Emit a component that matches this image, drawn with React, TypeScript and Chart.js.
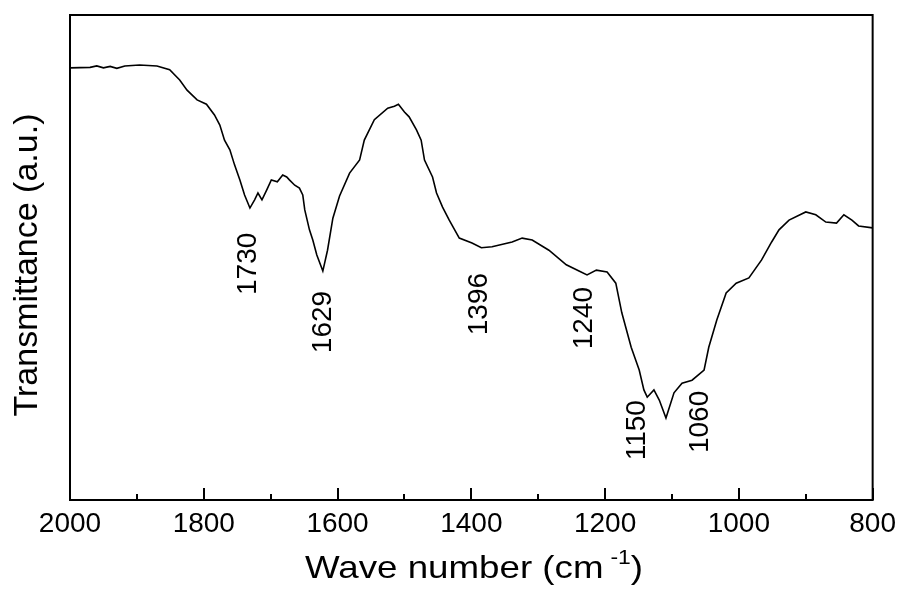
import React, { useEffect, useRef } from "react";
import { Chart, registerables } from "chart.js";

Chart.register(...registerables);

// Spectrum: wavenumber (cm^-1) and transmittance (a.u., 0-100)
const waveNumbers = [
  2000, 1970, 1960, 1950, 1940, 1930, 1918, 1896, 1870, 1851, 1836, 1825, 1810, 1796, 1784,
  1776, 1769, 1761, 1754, 1746, 1739, 1731, 1724, 1719, 1713, 1706, 1699, 1690, 1682, 1676,
  1672, 1664, 1657, 1652, 1649, 1642, 1637, 1631, 1622, 1615, 1607, 1597, 1582, 1567, 1560,
  1545, 1525, 1515, 1509, 1500, 1493, 1482, 1475, 1470, 1458, 1452, 1443, 1433, 1418, 1399,
  1385, 1369, 1339, 1324, 1309, 1284, 1258, 1239, 1227, 1213, 1197, 1184, 1175, 1161, 1149,
  1142, 1137, 1127, 1119, 1109, 1097, 1085, 1070, 1052, 1045, 1033, 1019, 1004, 985, 966,
  951, 940, 925, 900, 885, 870, 854, 843, 831, 821, 800,
];
const transmittance = [
  89.1, 89.2, 89.5, 89.1, 89.4, 89.0, 89.5, 89.7, 89.5, 88.7, 86.6, 84.5, 82.5, 81.6, 79.4,
  77.3, 74.2, 72.2, 69.1, 66.0, 62.9, 60.2, 61.9, 63.3, 61.9, 63.9, 66.0, 65.6, 67.0, 66.6,
  66.0, 64.9, 64.3, 62.9, 59.8, 55.7, 53.6, 50.5, 47.2, 51.5, 58.1, 62.7, 67.4, 70.1, 74.2,
  78.4, 80.8, 81.2, 81.6, 80.0, 79.0, 76.3, 74.2, 70.1, 66.6, 63.3, 60.4, 57.7, 54.0, 53.0,
  52.0, 52.2, 53.2, 54.0, 53.6, 51.5, 48.5, 47.2, 46.4, 47.4, 47.0, 44.7, 38.6, 31.5, 26.8,
  22.7, 21.2, 22.7, 20.6, 16.9, 22.1, 24.1, 24.7, 26.8, 31.5, 37.1, 42.7, 44.7, 45.8, 49.5,
  53.2, 55.7, 57.7, 59.4, 58.8, 57.3, 57.1, 58.8, 57.7, 56.5, 56.1,
];

// Peak annotations: label text and its anchor (data coordinates)
const peakLabels = ["1730", "1629", "1396", "1240", "1150", "1060"];
const peakLabelX = [1734, 1622, 1388, 1231, 1152, 1058];
const peakLabelY = [48.7, 36.7, 40.4, 37.5, 14.4, 16.1];

const xMajorTicks = [2000, 1800, 1600, 1400, 1200, 1000, 800];
const xMinorTicks = [1900, 1700, 1500, 1300, 1100, 900];

const FONT = '"Liberation Sans", Arial, sans-serif';

const decorPlugin = {
  id: "decor",
  afterDraw(chart: any) {
    const { ctx, chartArea, scales } = chart;
    const xs = scales.x;
    const ys = scales.y;
    ctx.save();
    // frame
    ctx.strokeStyle = "#000";
    ctx.lineWidth = 2;
    ctx.strokeRect(chartArea.left, chartArea.top, chartArea.right - chartArea.left, chartArea.bottom - chartArea.top);
    // inward ticks
    ctx.beginPath();
    xMajorTicks.forEach((v) => {
      const px = Math.round(xs.getPixelForValue(v));
      ctx.moveTo(px, chartArea.bottom);
      ctx.lineTo(px, chartArea.bottom - 12);
    });
    xMinorTicks.forEach((v) => {
      const px = Math.round(xs.getPixelForValue(v));
      ctx.moveTo(px, chartArea.bottom);
      ctx.lineTo(px, chartArea.bottom - 6);
    });
    ctx.stroke();

    // peak labels
    ctx.fillStyle = "#000";
    ctx.font = `28px ${FONT}`;
    ctx.textAlign = "center";
    ctx.textBaseline = "middle";
    peakLabels.forEach((t, i) => {
      const px = xs.getPixelForValue(peakLabelX[i]);
      const py = ys.getPixelForValue(peakLabelY[i]);
      ctx.save();
      ctx.translate(px, py);
      ctx.rotate(-Math.PI / 2);
      ctx.fillText(t, 0, 0);
      ctx.restore();
    });

    // y title
    ctx.save();
    ctx.font = `34px ${FONT}`;
    ctx.translate(28, 265);
    ctx.rotate(-Math.PI / 2);
    ctx.textAlign = "center";
    ctx.textBaseline = "middle";
    ctx.fillText("Transmittance (a.u.)", 0, 0);
    ctx.restore();

    // x title with superscript
    ctx.save();
    ctx.textBaseline = "alphabetic";
    ctx.textAlign = "left";
    const main = "Wave number (cm";
    const sup = "-1";
    const close = ")";
    ctx.font = `32px ${FONT}`;
    const wMain = ctx.measureText(main).width;
    const wClose = ctx.measureText(close).width;
    ctx.font = `20px ${FONT}`;
    const wSup = ctx.measureText(sup).width;
    const gap = 6;
    const natural = wMain + gap + wSup + wClose;
    const target = 338;
    const sx = target / natural;
    ctx.translate(305, 578);
    ctx.scale(sx, 1);
    ctx.font = `32px ${FONT}`;
    ctx.fillText(main, 0, 0);
    ctx.font = `20px ${FONT}`;
    ctx.fillText(sup, wMain + gap, -14);
    ctx.font = `32px ${FONT}`;
    ctx.fillText(close, wMain + gap + wSup, 0);
    ctx.restore();

    ctx.restore();
  },
};

export default function App() {
  const canvasRef = useRef<HTMLCanvasElement | null>(null);

  useEffect(() => {
    if (!canvasRef.current) return;
    const points = waveNumbers.map((w, i) => ({ x: w, y: transmittance[i] }));
    const chart = new Chart(canvasRef.current, {
      type: "line",
      data: {
        datasets: [
          {
            data: points,
            borderColor: "#000",
            borderWidth: 1.6,
            pointRadius: 0,
            tension: 0,
            fill: false,
          },
        ],
      },
      options: {
        animation: false,
        responsive: true,
        maintainAspectRatio: false,
        layout: { padding: { left: 0, top: 15, right: 29, bottom: 0 } },
        plugins: { legend: { display: false }, tooltip: { enabled: false }, title: { display: false } },
        scales: {
          x: {
            type: "linear",
            min: 800,
            max: 2000,
            reverse: true,
            grid: { display: false, drawTicks: false },
            border: { display: false },
            ticks: {
              stepSize: 200,
              padding: 7,
              color: "#000",
              font: { family: FONT, size: 28 },
              maxRotation: 0,
              callback: (v: any) => String(v),
            },
            afterFit: (scale: any) => {
              scale.height = 90;
            },
          },
          y: {
            type: "linear",
            min: 0,
            max: 100,
            grid: { display: false, drawTicks: false },
            border: { display: false },
            ticks: { display: false },
            afterFit: (scale: any) => {
              scale.width = 70;
            },
          },
        },
      },
      plugins: [decorPlugin],
    });
    return () => chart.destroy();
  }, []);

  return (
    <div style={{ position: "fixed", left: 0, top: 0, width: 903, height: 590, background: "#fff" }}>
      <canvas ref={canvasRef} />
    </div>
  );
}
